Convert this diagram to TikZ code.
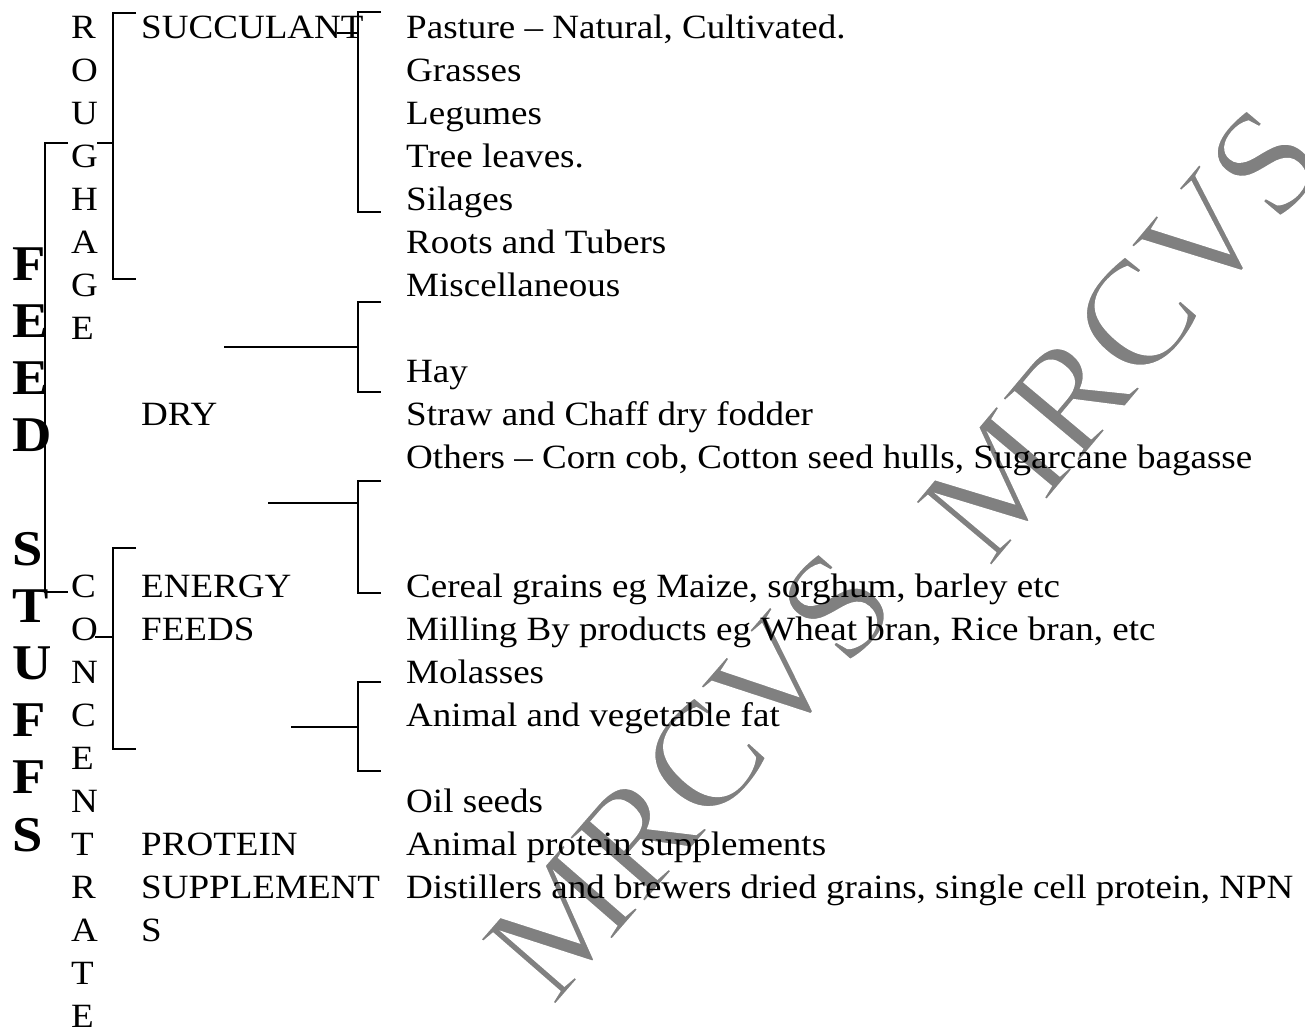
\documentclass[tikz,border=0pt]{standalone}
\usepackage{fontspec}
\setmainfont{Liberation Serif}[FakeStretch=1.09]
\newfontfamily\wmfont{Liberation Serif}
\newcommand{\thinwm}[1]{\special{pdf:code 2 Tr 1 1 1 RG 2.2 w}#1\special{pdf:code 0 Tr}}
\begin{document}
\begin{tikzpicture}[x=1pt,y=-1pt,
  item/.style={anchor=base west,inner sep=0pt,font=\fontsize{34}{40}\selectfont},
  big/.style={anchor=base west,inner sep=0pt,font=\fontsize{50}{56}\selectfont\bfseries},
  brk/.style={draw=black,line width=2pt},
  wmark/.style={text=black!50,inner sep=0pt,rotate=49,font=\wmfont\fontsize{152}{152}\selectfont}]
\useasboundingbox (0,0) rectangle (1305,1028);
\fill[white] (0,0) rectangle (1305,1028);
% watermarks
\node[wmark] (wm1) at (690,775) {\thinwm{MRCVS}};
\node[wmark,rotate=1] (wm2) at (1122,334) {\thinwm{MRCVS}};
% big FEEDSTUFFS
\foreach \L [count=\i from 0] in {F,E,E,D,,S,T,U,F,F,S}{
  \node[big] (fs\i) at (12,{280+57.1*\i}) {\L};
}
% ROUGHAGE
\foreach \L [count=\i from 0] in {R,O,U,G,H,A,G,E}{
  \node[item] (r\i) at (71,{38.5+43*\i}) {\L};
}
% CONCENTRATE
\foreach \L [count=\i from 13] in {C,O,N,C,E,N,T,R,A,T,E}{
  \node[item] (c\i) at (71,{38.5+43*\i}) {\L};
}
% middle column
\node[item] (succ) at (141,{38.5}) {SUCCULANT};
\node[item] (dry) at (141,{38.5+43*9}) {DRY};
\node[item] (energy) at (141,{38.5+43*13}) {ENERGY};
\node[item] (feeds) at (141,{38.5+43*14}) {FEEDS};
\node[item] (prot) at (141,{38.5+43*19}) {PROTEIN};
\node[item] (supp) at (141,{38.5+43*20}) {SUPPLEMENT};
\node[item] (supps) at (141,{38.5+43*21}) {S};
% right column
\node[item] (i0) at (406,{38.5+43*0}) {Pasture – Natural, Cultivated.};
\node[item] (i1) at (406,{38.5+43*1}) {Grasses};
\node[item] (i2) at (406,{38.5+43*2}) {Legumes};
\node[item] (i3) at (406,{38.5+43*3}) {Tree leaves.};
\node[item] (i4) at (406,{38.5+43*4}) {Silages};
\node[item] (i5) at (406,{38.5+43*5}) {Roots and Tubers};
\node[item] (i6) at (406,{38.5+43*6}) {Miscellaneous};
\node[item] (i8) at (406,{38.5+43*8}) {Hay};
\node[item] (i9) at (406,{38.5+43*9}) {Straw and Chaff dry fodder};
\node[item] (i10) at (406,{38.5+43*10}) {Others – Corn cob, Cotton seed hulls, Sugarcane bagasse};
\node[item] (i13) at (406,{38.5+43*13}) {Cereal grains eg Maize, sorghum, barley etc};
\node[item] (i14) at (406,{38.5+43*14}) {Milling By products eg Wheat bran, Rice bran, etc};
\node[item] (i15) at (406,{38.5+43*15}) {Molasses};
\node[item] (i16) at (406,{38.5+43*16}) {Animal and vegetable fat};
\node[item] (i18) at (406,{38.5+43*18}) {Oil seeds};
\node[item] (i19) at (406,{38.5+43*19}) {Animal protein supplements};
\node[item] (i20) at (406,{38.5+43*20}) {Distillers and brewers dried grains, single cell protein, NPN};
% bracket coordinates
\coordinate (fA1) at (68,143); \coordinate (fA2) at (68,592);
\coordinate (rB1) at (136,13); \coordinate (rB2) at (136,279); \coordinate (rBt) at (97,143);
\coordinate (cC1) at (136,548); \coordinate (cC2) at (136,749); \coordinate (cCt) at (95,637);
\coordinate (sD1) at (381,12); \coordinate (sD2) at (381,212); \coordinate (sDt) at (337,33);
\coordinate (dE1) at (381,302); \coordinate (dE2) at (381,392); \coordinate (dEt) at (224,347);
\coordinate (eF1) at (381,481); \coordinate (eF2) at (381,593); \coordinate (eFt) at (268,503);
\coordinate (pG1) at (381,682); \coordinate (pG2) at (381,771); \coordinate (pGt) at (291,727);
% brackets
\draw[brk] (fA1) -- (45,143) -- (45,592) -- (fA2);
\draw[brk] (rB1) -- (113,13) -- (113,279) -- (rB2);
\draw[brk] (rBt) -- (113,143);
\draw[brk] (cC1) -- (113,548) -- (113,749) -- (cC2);
\draw[brk] (cCt) -- (113,637);
\draw[brk] (sD1) -- (358,12) -- (358,212) -- (sD2);
\draw[brk] (sDt) -- (358,33);
\draw[brk] (dE1) -- (358,302) -- (358,392) -- (dE2);
\draw[brk] (dEt) -- (358,347);
\draw[brk] (eF1) -- (358,481) -- (358,593) -- (eF2);
\draw[brk] (eFt) -- (358,503);
\draw[brk] (pG1) -- (358,682) -- (358,771) -- (pG2);
\draw[brk] (pGt) -- (358,727);
\end{tikzpicture}
\end{document}
